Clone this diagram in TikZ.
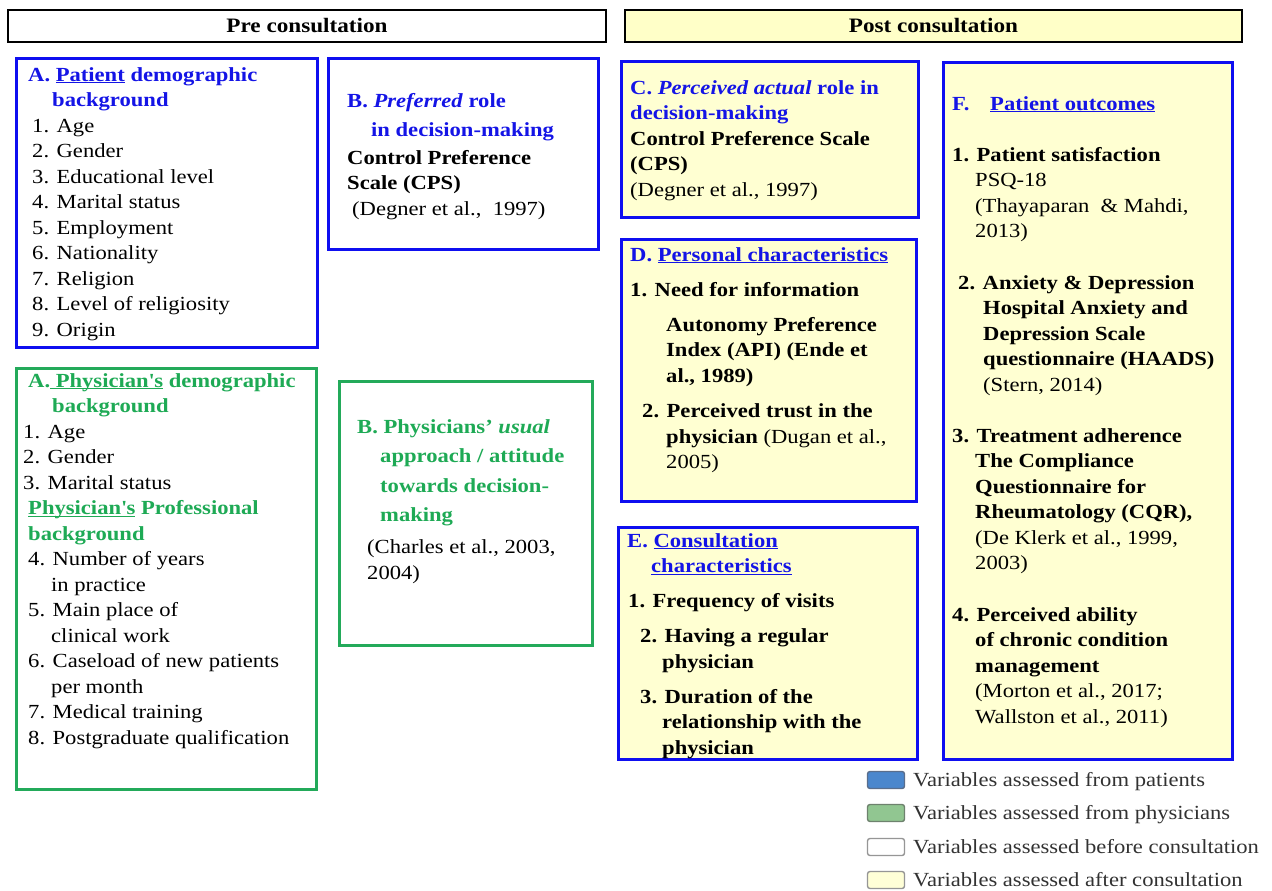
\documentclass[tikz,border=0pt]{standalone}
\usepackage{fontspec}
\setmainfont{Liberation Serif}[FakeStretch=1.13]
\definecolor{pblue}{RGB}{20,20,230}
\definecolor{bblue}{RGB}{15,15,240}
\definecolor{pgreen}{RGB}{30,170,85}
\definecolor{bgreen}{RGB}{35,170,90}
\definecolor{postyel}{RGB}{255,255,210}
\definecolor{hdyel}{RGB}{255,255,200}
\definecolor{legtxt}{RGB}{50,50,50}
\definecolor{swblue}{RGB}{75,135,205}
\definecolor{swblueb}{RGB}{90,110,140}
\definecolor{swgreen}{RGB}{145,198,145}
\definecolor{swgreenb}{RGB}{110,130,110}
\definecolor{swgray}{RGB}{150,150,150}
\definecolor{swyel}{RGB}{255,255,215}
\newcommand\blu[1]{{\bfseries\color{pblue}#1}}
\newcommand\grn[1]{{\bfseries\color{pgreen}#1}}
\newcommand\ulin[1]{\underline{\smash{#1}}}
\begin{document}
\begin{tikzpicture}[x=1pt,y=-1pt,
  hdbox/.style={draw=black, line width=2.8pt, inner sep=0, font=\bfseries\fontsize{20.5}{24}\selectfont},
  bbox/.style={draw=bblue, line width=2.8pt, inner sep=0, anchor=north west},
  gbox/.style={draw=bgreen, line width=2.8pt, inner sep=0, anchor=north west},
  txt/.style={inner sep=0, anchor=north west, align=left, font=\fontsize{20}{25.5}\selectfont},
  swatch/.style={line width=1.4pt, rounded corners=2.5pt, minimum width=37pt, minimum height=17pt, inner sep=0},
  legtext/.style={inner sep=0, anchor=base west, text=legtxt, font=\fontsize{20}{24}\selectfont}]
\useasboundingbox[fill=white] (0,0) rectangle (1272,891);

% headers
\node[hdbox, fill=white, minimum width=598pt, minimum height=32pt] (hpre) at (307,26) {Pre consultation};
\node[hdbox, fill=hdyel, minimum width=617pt, minimum height=32pt] (hpost) at (933.5,26) {Post consultation};

% boxes
\node[bbox, fill=white, minimum width=301pt, minimum height=289pt] (bA) at (15,57) {};
\node[bbox, fill=white, minimum width=270pt, minimum height=191pt] (bB) at (327,57) {};
\node[gbox, fill=white, minimum width=300pt, minimum height=421pt] (bAp) at (15,367) {};
\node[gbox, fill=white, minimum width=253pt, minimum height=264pt] (bBp) at (338,380) {};
\node[bbox, fill=postyel, minimum width=297pt, minimum height=156pt] (bC) at (620,60) {};
\node[bbox, fill=postyel, minimum width=295pt, minimum height=262pt] (bD) at (620,238) {};
\node[bbox, fill=postyel, minimum width=299pt, minimum height=232pt] (bE) at (617,526) {};
\node[bbox, fill=postyel, minimum width=289pt, minimum height=697pt] (bF) at (942,61) {};

% A patient
\node[txt] (tA) at (28,81-17.85) {\strut\blu{A. \ulin{Patient} demographic}\\
\hspace*{24pt}\blu{background}\\
\hspace*{4pt}1. Age\\
\hspace*{4pt}2. Gender\\
\hspace*{4pt}3. Educational level\\
\hspace*{4pt}4. Marital status\\
\hspace*{4pt}5. Employment\\
\hspace*{4pt}6. Nationality\\
\hspace*{4pt}7. Religion\\
\hspace*{4pt}8. Level of religiosity\\
\hspace*{4pt}9. Origin};

% B preferred
\node[txt] (tB) at (347,107-17.85) {\strut\blu{B. \textit{Preferred} role}\\[3.5pt]
\hspace*{24pt}\blu{in decision-making}\\[2.5pt]
\textbf{Control Preference}\\
\textbf{Scale (CPS)}\\[0.5pt]
\hspace*{5pt}(Degner et al.,\ \ 1997)};

% A physician
\node[txt] (tAp) at (23,387-17.85) {\strut\hspace*{5pt}\grn{A.\ulin{\ Physician\textquotesingle s} demographic}\\
\hspace*{29pt}\grn{background}\\
1. Age\\
2. Gender\\
3. Marital status\\
\hspace*{5pt}\grn{\ulin{Physician\textquotesingle s} Professional}\\
\hspace*{5pt}\grn{background}\\
\hspace*{5pt}4. Number of years\\
\hspace*{28pt}in practice\\
\hspace*{5pt}5. Main place of\\
\hspace*{28pt}clinical work\\
\hspace*{5pt}6. Caseload of new patients\\
\hspace*{28pt}per month\\
\hspace*{5pt}7. Medical training\\
\hspace*{5pt}8. Postgraduate qualification};

% B physicians
\node[txt] (tBp) at (357,433-17.85) {\strut\grn{B. Physicians’ \textit{usual}}\\[3.5pt]
\hspace*{23pt}\grn{approach\ / attitude}\\[4.5pt]
\hspace*{23pt}\grn{towards decision-}\\[3.5pt]
\hspace*{23pt}\grn{making}\\[6.5pt]
\hspace*{10pt}(Charles et al., 2003,\\[0.5pt]
\hspace*{10pt}2004)};

% C
\node[txt] (tC) at (630,94-17.85) {\strut\blu{C. \textit{Perceived actual} role in}\\
\blu{decision-making}\\
\textbf{Control Preference Scale}\\
\textbf{(CPS)}\\
(Degner et al., 1997)};

% D
\node[txt] (tD) at (630,261-17.85) {\strut\blu{D. \ulin{Personal characteristics}}\\[9.5pt]
\textbf{1. Need for information}\\[9.5pt]
\hspace*{36pt}\textbf{Autonomy Preference}\\
\hspace*{36pt}\textbf{Index (API) (Ende et}\\[0.5pt]
\hspace*{36pt}\textbf{al., 1989)}\\[9.5pt]
\hspace*{12pt}\textbf{2. Perceived trust in the}\\
\hspace*{36pt}\textbf{physician} (Dugan et al.,\\
\hspace*{36pt}2005)};

% E
\node[txt] (tE) at (627,547-17.85) {\strut\blu{E. \ulin{Consultation}}\\
\hspace*{24pt}\blu{\ulin{characteristics}}\\[9.5pt]
\hspace*{1pt}\textbf{1. Frequency of visits}\\[9.5pt]
\hspace*{13pt}\textbf{2. Having a regular}\\
\hspace*{35pt}\textbf{physician}\\[9.5pt]
\hspace*{13pt}\textbf{3. Duration of the}\\
\hspace*{35pt}\textbf{relationship with the}\\
\hspace*{35pt}\textbf{physician}};

% F
\node[txt] (tF) at (952,110-17.85) {\strut\blu{\makebox[38pt][l]{F.}\ulin{Patient outcomes}}\\[25.5pt]
\textbf{1. Patient satisfaction}\\
\hspace*{23pt}PSQ-18\\
\hspace*{23pt}(Thayaparan\ \ \& Mahdi,\\
\hspace*{23pt}2013)\\[26pt]
\hspace*{6pt}\textbf{2. Anxiety \& Depression}\\
\hspace*{31pt}\textbf{Hospital Anxiety and}\\
\hspace*{31pt}\textbf{Depression Scale}\\
\hspace*{31pt}\textbf{questionnaire (HAADS)}\\
\hspace*{31pt}(Stern, 2014)\\[25.5pt]
\textbf{3. Treatment adherence}\\
\hspace*{23pt}\textbf{The Compliance}\\
\hspace*{23pt}\textbf{Questionnaire for}\\
\hspace*{23pt}\textbf{Rheumatology (CQR),}\\
\hspace*{23pt}(De Klerk et al., 1999,\\
\hspace*{23pt}2003)\\[26pt]
\textbf{4. Perceived ability}\\
\hspace*{23pt}\textbf{of chronic condition}\\
\hspace*{23pt}\textbf{management}\\
\hspace*{23pt}(Morton et al., 2017;\\
\hspace*{23pt}Wallston et al., 2011)};

% legend
\node[swatch, draw=swblueb, fill=swblue] (l1) at (886,780) {};
\node[swatch, draw=swgreenb, fill=swgreen] (l2) at (886,813) {};
\node[swatch, draw=swgray, fill=white] (l3) at (886,847) {};
\node[swatch, draw=swgray, fill=swyel] (l4) at (886,880) {};
\node[legtext] (lt1) at (913,786) {Variables assessed from patients};
\node[legtext] (lt2) at (913,819) {Variables assessed from physicians};
\node[legtext] (lt3) at (913,853) {Variables assessed before consultation};
\node[legtext] (lt4) at (913,886) {Variables assessed after consultation};
\end{tikzpicture}
\end{document}
